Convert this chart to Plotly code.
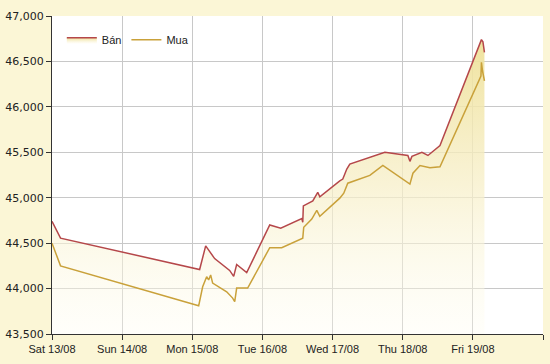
import plotly.graph_objects as go

# --- data ---
ban_time = ["2011-08-13 00:00", "2011-08-13 02:55", "2011-08-15 02:31", "2011-08-15 04:35",
            "2011-08-15 05:15", "2011-08-15 07:39", "2011-08-15 12:47", "2011-08-15 14:10",
            "2011-08-15 15:11", "2011-08-15 18:37", "2011-08-16 02:30", "2011-08-16 06:16",
            "2011-08-16 13:28", "2011-08-16 13:48", "2011-08-16 14:00", "2011-08-16 17:14",
            "2011-08-16 18:56", "2011-08-16 19:38", "2011-08-17 02:28", "2011-08-17 03:30",
            "2011-08-17 04:52", "2011-08-17 05:54", "2011-08-17 17:53", "2011-08-18 01:46",
            "2011-08-18 02:28", "2011-08-18 03:09", "2011-08-18 06:34", "2011-08-18 08:38",
            "2011-08-18 12:45", "2011-08-19 02:56", "2011-08-19 03:27", "2011-08-19 03:58"]
ban_value = [44740, 44555, 44210, 44470,
             44440, 44330, 44200, 44135,
             44265, 44175, 44700, 44665,
             44770, 44730, 44910, 44965,
             45060, 45010, 45185, 45205,
             45315, 45370, 45500, 45465,
             45400, 45455, 45500, 45465,
             45575, 46740, 46715, 46600]

mua_time = ["2011-08-13 00:00", "2011-08-13 02:55", "2011-08-15 02:11", "2011-08-15 03:33",
            "2011-08-15 04:55", "2011-08-15 05:36", "2011-08-15 06:17", "2011-08-15 06:58",
            "2011-08-15 11:46", "2011-08-15 13:49", "2011-08-15 14:31", "2011-08-15 15:11",
            "2011-08-15 18:57", "2011-08-16 02:30", "2011-08-16 06:36", "2011-08-16 13:48",
            "2011-08-16 14:08", "2011-08-16 16:53", "2011-08-16 18:36", "2011-08-16 19:38",
            "2011-08-17 02:28", "2011-08-17 03:50", "2011-08-17 05:12", "2011-08-17 12:45",
            "2011-08-17 17:12", "2011-08-18 02:28", "2011-08-18 03:30", "2011-08-18 05:54",
            "2011-08-18 09:19", "2011-08-18 12:45", "2011-08-19 02:46", "2011-08-19 02:56",
            "2011-08-19 03:17", "2011-08-19 03:58"]
mua_value = [44500, 44250, 43810, 44020,
             44130, 44095, 44150, 44060,
             43965, 43895, 43855, 44005,
             44005, 44450, 44450, 44555,
             44675, 44765, 44860, 44795,
             44995, 45050, 45160, 45245,
             45355, 45150, 45270, 45355,
             45330, 45340, 46340, 46490,
             46400, 46285]

tick_dates = ["2011-08-13", "2011-08-14", "2011-08-15", "2011-08-16",
              "2011-08-17", "2011-08-18", "2011-08-19", "2011-08-20"]
tick_labels = ["Sat 13/08", "Sun 14/08", "Mon 15/08", "Tue 16/08",
               "Wed 17/08", "Thu 18/08", "Fri 19/08", ""]
y_ticks = [43500, 44000, 44500, 45000, 45500, 46000, 46500, 47000]

fig = go.Figure()
fig.add_trace(go.Scatter(
    x=ban_time, y=ban_value, name="Bán", mode="lines",
    line=dict(color="#B5474A", width=1.5),
    fill="tozeroy",
    fillgradient=dict(type="vertical", start=43500, stop=46800,
                      colorscale=[[0, "rgba(255,253,240,0.3)"],
                                  [0.5, "rgba(247,239,200,0.75)"],
                                  [1, "rgba(238,224,150,0.95)"]]),
))
fig.add_trace(go.Scatter(
    x=mua_time, y=mua_value, name="Mua", mode="lines",
    line=dict(color="#C9A13A", width=1.5),
))

fig.update_layout(
    width=550, height=364,
    margin=dict(l=52, r=7, t=16, b=30),
    paper_bgcolor="#FBF6D6",
    plot_bgcolor="white",
    font=dict(family="Liberation Sans, Arial, sans-serif", size=11, color="#222"),
    showlegend=True,
    legend=dict(orientation="h", x=0.02, y=0.925, xanchor="left", yanchor="middle",
                bgcolor="rgba(0,0,0,0)", font=dict(size=11, color="#222"),
                itemwidth=30),
)
fig.update_xaxes(
    type="date", range=["2011-08-13", "2011-08-20"],
    tickmode="array", tickvals=tick_dates, ticktext=tick_labels,
    showgrid=True, gridcolor="#C8C8C8", gridwidth=1,
    showline=True, linecolor="#333", linewidth=1,
    ticks="outside", ticklen=5, tickcolor="#333",
    tickfont=dict(family="Liberation Sans, Arial, sans-serif", size=11, color="#222"),
    zeroline=False, automargin=False,
)
fig.update_yaxes(
    range=[43500, 47000], tickmode="array", tickvals=y_ticks,
    tickformat=",d",
    showgrid=True, gridcolor="#C8C8C8", gridwidth=1,
    showline=True, linecolor="#333", linewidth=1,
    ticks="outside", ticklen=5, tickcolor="#333",
    tickfont=dict(family="DejaVu Sans, sans-serif", size=11, color="#222"),
    zeroline=False, automargin=False,
)

fig.write_html("out.html", config={"displayModeBar": False},
               post_script="document.body.style.margin='0';document.body.style.overflow='hidden';")
